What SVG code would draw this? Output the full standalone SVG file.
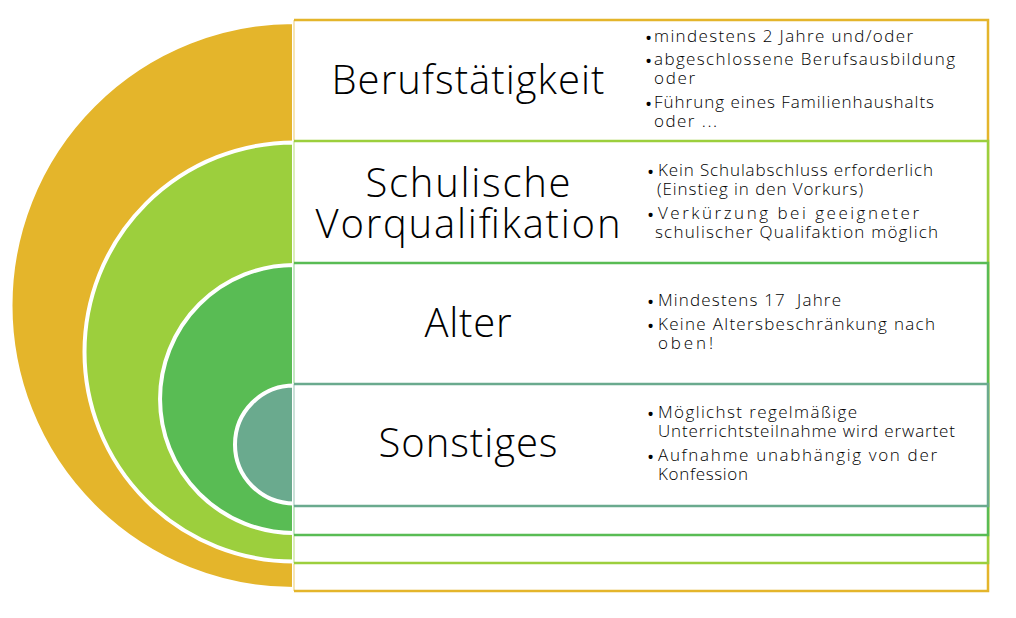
<svg xmlns="http://www.w3.org/2000/svg" width="1016" height="618" viewBox="0 0 1016 618">
<style>
.disk{stroke:#FFFFFF;stroke-width:4}
.box{fill:#FFFFFF;stroke:none}
.edge{fill:none;stroke-width:2.5}
.ledge{stroke-width:2;stroke-opacity:0.35}
.title{font-family:"Open Sans","Liberation Sans",sans-serif;font-weight:300;font-size:40px;fill:#000000;text-anchor:middle}
.item{font-family:"Open Sans","Liberation Sans",sans-serif;font-weight:300;font-size:17px;fill:#000000;white-space:pre}
.dot{font-family:"Open Sans","Liberation Sans",sans-serif;font-size:19px;fill:#000000}
.gold{stroke:#E4B52B}
.lgreen{stroke:#9CCF3D}
.green{stroke:#59BC54}
.teal{stroke:#6AAA8E}
</style>
<rect x="0" y="0" width="1016" height="618" fill="#FFFFFF"/>
<g id="node-berufstaetigkeit">
<path class="disk" fill="#E4B52B" d="M294,22 A283.5,283.5 0 0 0 294,589 Z"/>
<rect class="box" x="294" y="20" width="694" height="571"/>
<path class="edge gold" d="M294,20 H988 V591 H294"/>
<line class="ledge gold" x1="294" y1="20" x2="294" y2="591"/>
<text class="title" x="468" y="94" textLength="273">Berufstätigkeit</text>
<text class="dot" x="645" y="45">•</text>
<text class="item" x="654" y="42" textLength="259">mindestens 2 Jahre und/oder</text>
<text class="dot" x="645" y="68">•</text>
<text class="item" x="654" y="65" textLength="301">abgeschlossene Berufsausbildung</text>
<text class="item" x="654" y="84" textLength="41">oder</text>
<text class="dot" x="645" y="111">•</text>
<text class="item" x="654" y="108" textLength="280">Führung eines Familienhaushalts</text>
<text class="item" x="654" y="127" textLength="63">oder ...</text>
</g>
<g id="node-schulische-vorqualifikation">
<path class="disk" fill="#9CCF3D" d="M294,142.5 A209.5,209.5 0 0 0 294,561.5 Z"/>
<rect class="box" x="294" y="141" width="694" height="422"/>
<path class="edge lgreen" d="M294,141 H988 V563 H294"/>
<line class="ledge lgreen" x1="294" y1="141" x2="294" y2="563"/>
<text class="title" x="468" y="197" textLength="205">Schulische</text>
<text class="title" x="468" y="238" textLength="305">Vorqualifikation</text>
<text class="dot" x="647" y="179">•</text>
<text class="item" x="658" y="176" textLength="275">Kein Schulabschluss erforderlich</text>
<text class="item" x="657" y="195" textLength="206">(Einstieg in den Vorkurs)</text>
<text class="dot" x="647" y="222">•</text>
<text class="item" x="658" y="219" textLength="261">Verkürzung bei geeigneter</text>
<text class="item" x="655" y="238" textLength="283">schulischer Qualifaktion möglich</text>
</g>
<g id="node-alter">
<path class="disk" fill="#59BC54" d="M294,265 A134,134 0 0 0 294,533 Z"/>
<rect class="box" x="294" y="263" width="694" height="272"/>
<path class="edge green" d="M294,263 H988 V535 H294"/>
<line class="ledge green" x1="294" y1="263" x2="294" y2="535"/>
<text class="title" x="468" y="337" textLength="87">Alter</text>
<text class="dot" x="647" y="309">•</text>
<text class="item" x="658" y="306" textLength="183">Mindestens 17  Jahre</text>
<text class="dot" x="647" y="333">•</text>
<text class="item" x="658" y="330" textLength="277">Keine Altersbeschränkung nach</text>
<text class="item" x="658" y="349" textLength="55">oben!</text>
</g>
<g id="node-sonstiges">
<path class="disk" fill="#6AAA8E" d="M294,385.5 A59,59 0 0 0 294,503.5 Z"/>
<rect class="box" x="294" y="384" width="694" height="122"/>
<path class="edge teal" d="M294,384 H988 V506 H294"/>
<line class="ledge teal" x1="294" y1="384" x2="294" y2="506"/>
<text class="title" x="468" y="457" textLength="179">Sonstiges</text>
<text class="dot" x="647" y="421">•</text>
<text class="item" x="658" y="418" textLength="199">Möglichst regelmäßige</text>
<text class="item" x="658" y="437" textLength="297">Unterrichtsteilnahme wird erwartet</text>
<text class="dot" x="647" y="464">•</text>
<text class="item" x="658" y="461" textLength="279">Aufnahme unabhängig von der</text>
<text class="item" x="658" y="480" textLength="90">Konfession</text>
</g>
</svg>
